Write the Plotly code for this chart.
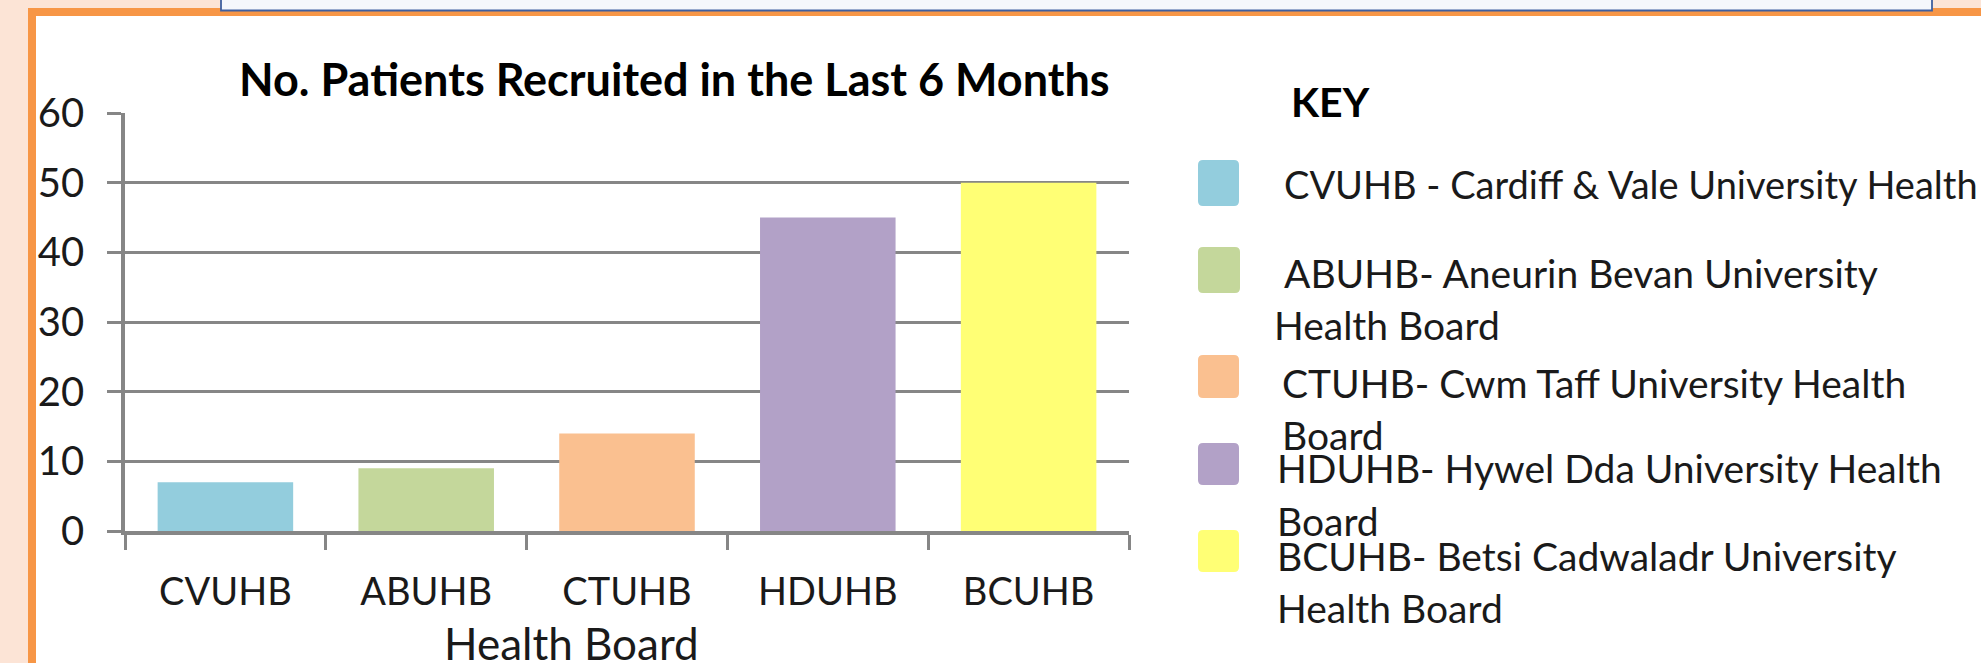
import plotly.graph_objects as go

# ---------------- data ----------------
categories = ["CVUHB", "ABUHB", "CTUHB", "HDUHB", "BCUHB"]
patients = [7, 9, 14, 45, 50]
bar_colors = ["#93CDDD", "#C4D79B", "#FAC090", "#B2A1C7", "#FFFF75"]
y_ticks = [0, 10, 20, 30, 40, 50, 60]
legend_lines = [
    ["CVUHB - Cardiff & Vale University Health"],
    ["ABUHB- Aneurin Bevan University", "Health Board"],
    ["CTUHB- Cwm Taff University Health", "Board"],
    ["HDUHB- Hywel Dda University Health", "Board"],
    ["BCUHB- Betsi Cadwaladr University", "Health Board"],
]
title_text = "No. Patients Recruited in the Last 6 Months"
x_title_text = "Health Board"
key_text = "KEY"

# ---------------- layout geometry (pixels) ----------------
W, H = 1981, 663
L, R, T, B = 125, 1129, 113, 531

def px(x):
    return (x - L) / (R - L)

def py(y):
    return (B - y) / (B - T)

FONT = "Lato"
TXT = "#1A1A1A"
GRID = "#868686"

fig = go.Figure()
fig.add_trace(go.Bar(
    x=categories, y=patients,
    marker=dict(color=bar_colors, line=dict(width=0)),
    showlegend=False, hoverinfo="x+y",
))

shapes = []
def rect(x0, y0, x1, y1, fill, line_color=None, line_width=0):
    shapes.append(dict(type="rect", xref="paper", yref="paper",
                       x0=px(x0), x1=px(x1), y0=py(y1), y1=py(y0),
                       fillcolor=fill, layer="above",
                       line=dict(width=line_width, color=line_color or fill)))

# page frame
rect(0, 0, 28, H, "#FCE4D6")
rect(0, 0, W, 8, "#FCE4D6")
rect(28, 8, 36, H, "#F79646")
rect(28, 8, W, 16, "#F79646")
rect(221, -6, 1932, 10.5, "#F5F7FC", "#3F5F9F", 1.8)

# legend swatches (rounded)
swatch_boxes = [(1198, 160, 1239, 206), (1198, 247, 1240, 293), (1198, 355, 1239, 398),
                (1198, 443, 1239, 485), (1198, 530, 1239, 572)]

def rrect_path(x0, y0, x1, y1, r):
    pts = [
        f"M {px(x0 + r)},{py(y0)}",
        f"L {px(x1 - r)},{py(y0)}",
        f"Q {px(x1)},{py(y0)} {px(x1)},{py(y0 + r)}",
        f"L {px(x1)},{py(y1 - r)}",
        f"Q {px(x1)},{py(y1)} {px(x1 - r)},{py(y1)}",
        f"L {px(x0 + r)},{py(y1)}",
        f"Q {px(x0)},{py(y1)} {px(x0)},{py(y1 - r)}",
        f"L {px(x0)},{py(y0 + r)}",
        f"Q {px(x0)},{py(y0)} {px(x0 + r)},{py(y0)} Z",
    ]
    return " ".join(pts)

for (x0, y0, x1, y1), c in zip(swatch_boxes, bar_colors):
    shapes.append(dict(type="path", xref="paper", yref="paper",
                       path=rrect_path(x0, y0, x1, y1, 5),
                       fillcolor=c, line=dict(width=0), layer="above"))

annotations = []
def text(x, y, s, size, bold=False, xanchor="left"):
    annotations.append(dict(xref="paper", yref="paper", x=px(x), y=py(y),
                            text=f"<b>{s}</b>" if bold else s, showarrow=False,
                            xanchor=xanchor, yanchor="middle",
                            font=dict(family=FONT, size=size, color="#000000" if bold else TXT)))

text(674.5, 79, title_text, 45, bold=True, xanchor="center")
text(1330, 102, key_text, 41, bold=True, xanchor="center")
text(571, 643, x_title_text, 44, xanchor="center")

line_pos = [[(1282, 184)], [(1282, 273), (1272, 325)], [(1280, 383), (1280, 435)],
            [(1275, 468), (1275, 521)], [(1275, 556), (1275, 608)]]
line_sizes = [[38], [39, 39], [39, 39], [39, 39], [39, 39]]
for lines, poss, sizes in zip(legend_lines, line_pos, line_sizes):
    for s, (x, y), sz in zip(lines, poss, sizes):
        text(x, y, s, sz)

fig.update_layout(
    width=W, height=H,
    margin=dict(l=L, r=W - R, t=T, b=H - B, pad=0),
    paper_bgcolor="white", plot_bgcolor="white",
    bargap=0.325,
    shapes=shapes, annotations=annotations,
    font=dict(family=FONT, color=TXT),
)
fig.update_yaxes(
    range=[0, 60], tickvals=y_ticks, showgrid=True, gridcolor=GRID, gridwidth=3,
    zeroline=False, showline=True, linecolor=GRID, linewidth=3.5,
    ticks="outside", ticklen=14, tickwidth=3, tickcolor=GRID,
    tickfont=dict(family=FONT, size=40, color=TXT), ticklabelstandoff=15,
)
fig.update_xaxes(
    range=[-0.5, 4.5], showgrid=False, showline=True, linecolor=GRID, linewidth=3.5,
    ticks="outside", tickson="boundaries", ticklen=15, tickwidth=3, tickcolor=GRID,
    tickfont=dict(family=FONT, size=38, color=TXT), ticklabelstandoff=25,
)

fig.write_html(
    "out.html",
    config={"displayModeBar": False},
    post_script="document.body.style.margin='0px';document.body.style.overflow='hidden';",
)
